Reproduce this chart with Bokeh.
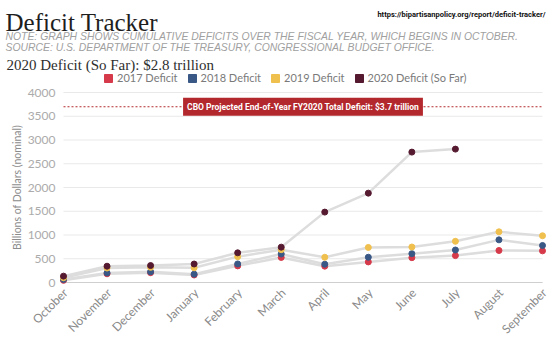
import math
from bokeh.plotting import figure
from bokeh.models import (Range1d, Legend, LegendItem, Label, ColumnDataSource)
from bokeh.core.properties import value
from bokeh.embed import file_html
from bokeh.resources import INLINE

# ---------------- data ----------------
months = ["October", "November", "December", "January", "February", "March",
          "April", "May", "June", "July", "August", "September"]
d2017 = [45, 183, 207, 158, 350, 527, 344, 433, 523, 566, 674, 666]
d2018 = [63, 202, 225, 176, 391, 600, 385, 532, 607, 684, 898, 779]
d2019 = [100, 305, 319, 310, 544, 691, 531, 738, 747, 867, 1067, 984]
d2020 = [134, 343, 357, 389, 625, 744, 1482, 1881, 2745, 2808]
series_names = ["2017 Deficit", "2018 Deficit", "2019 Deficit", "2020 Deficit (So Far)"]
series_colors = ["#d63a4a", "#3a5886", "#f0c04f", "#561a30"]
cbo_projection = 3700
y_ticks = [0, 500, 1000, 1500, 2000, 2500, 3000, 3500, 4000]
y_max = 4000

# ---------------- layout (pixels) ----------------
W, H = 549, 338
PL, PR, PT, PB = 63, 542, 92, 282          # plot area edges
n = len(months)
xs_px = (PR - PL) / (n - 1)
ys_px = (PB - PT) / y_max
x_range = Range1d(-PL / xs_px, (n - 1) + (W - PR) / xs_px)
y_range = Range1d(-(H - PB) / ys_px, y_max + PT / ys_px)

p = figure(width=W, height=H, output_backend="svg", toolbar_location=None,
           x_range=x_range, y_range=y_range,
           x_axis_location=None, y_axis_location=None,
           min_border=0, min_border_left=0, min_border_right=0,
           min_border_top=0, min_border_bottom=0)
p.outline_line_color = None
p.grid.visible = False
p.background_fill_color = "white"
p.border_fill_color = "white"

FONT = "Lato"

# gridlines (y axis) and baseline
grid_src = ColumnDataSource(dict(x0=[0] * len(y_ticks), x1=[n - 1] * len(y_ticks),
                                 y=y_ticks, lab=[str(t) for t in y_ticks]))
p.segment(x0="x0", x1="x1", y0="y", y1="y", source=grid_src,
          line_color="#e9e9e9", line_width=1)
p.segment(x0=[0], x1=[n - 1], y0=[0], y1=[0], line_color="#cfcfcf", line_width=1)

# y tick labels
p.text(x=0, y="y", text="lab", source=grid_src, x_offset=-8,
       text_align="right", text_baseline="middle", text_font=value(FONT),
       text_font_size="12px", text_color="#ababab")
# y axis title
p.text(x=[0], y=[y_max / 2], text=["Billions of Dollars (nominal)"], x_offset=-47,
       angle=math.pi / 2, text_align="center", text_baseline="middle",
       text_font=value(FONT), text_font_size="10.5px", text_color="#8c8c8c")
# x tick labels (rotated, right aligned at tick)
p.text(x=list(range(n)), y=[0] * n, text=months, x_offset=2, y_offset=8,
       angle=math.pi / 4, text_align="right", text_baseline="middle",
       text_font=value(FONT), text_font_size="12px", text_color="#8a8a8a")

# CBO projection dashed line
p.segment(x0=[0], x1=[n - 1], y0=[cbo_projection], y1=[cbo_projection],
          line_color="#b3282d", line_width=1, line_dash="2 2")

# series
all_series = [d2017, d2018, d2019, d2020]
for vals in all_series:
    p.line(list(range(len(vals))), vals, line_color="#dddddd", line_width=2.5)
for vals, col in zip(all_series, series_colors):
    p.scatter(list(range(len(vals))), vals, size=6, fill_color=col, line_color=col,
              line_width=1)

# legend with square swatches
items = []
for name, col in zip(series_names, series_colors):
    r = p.quad(left=[float("nan")], right=[float("nan")], top=[float("nan")],
               bottom=[float("nan")], fill_color=col, line_color=col)
    items.append(LegendItem(label=name, renderers=[r]))
legend = Legend(items=items, orientation="horizontal", location=(103, H - 84),
                glyph_width=10, glyph_height=10, label_height=12, label_width=10,
                label_text_font=FONT, label_text_font_size="11px",
                label_text_color="#7a7a7a", spacing=9, padding=0, margin=0,
                border_line_color=None, label_standoff=4, background_fill_alpha=0)
p.add_layout(legend)

# CBO label box
p.add_layout(Label(x=(n - 1) / 2, y=cbo_projection,
                   text="CBO Projected End-of-Year FY2020 Total Deficit: $3.7 trillion",
                   text_align="center", text_baseline="middle",
                   text_font="Roboto", text_font_style="bold",
                   text_font_size="8.5px", text_color="white",
                   background_fill_color="#b3282d", padding=4))

# header texts (screen units: origin at bottom-left of canvas)
def add_text(cx, cy, text, **kw):
    p.add_layout(Label(x=cx, y=H - cy, x_units="screen", y_units="screen",
                       text=text, text_baseline="alphabetic", **kw))

add_text(5, 22, "Deficit Tracker", text_font="Liberation Serif", text_font_size="25px",
         text_color="#1e1e1e")
add_text(545, 14, "https://bipartisanpolicy.org/report/deficit-tracker/",
         text_font="Roboto", text_font_style="bold", text_font_size="7.5px",
         text_color="#111111", text_align="right")
add_text(5, 35.5, "NOTE: GRAPH SHOWS CUMULATIVE DEFICITS OVER THE FISCAL YEAR, WHICH BEGINS IN OCTOBER.",
         text_font="Liberation Sans", text_font_style="italic", text_font_size="10.4px",
         text_color="#a0a0a0")
add_text(5, 47, "SOURCE: U.S. DEPARTMENT OF THE TREASURY, CONGRESSIONAL BUDGET OFFICE.",
         text_font="Liberation Sans", text_font_style="italic", text_font_size="10.4px",
         text_color="#a0a0a0")
add_text(6, 64, "2020 Deficit (So Far): $2.8 trillion", text_font="Liberation Serif",
         text_font_size="15px", text_color="#2e2e2e")

open("out.html", "w").write(file_html(p, INLINE))
